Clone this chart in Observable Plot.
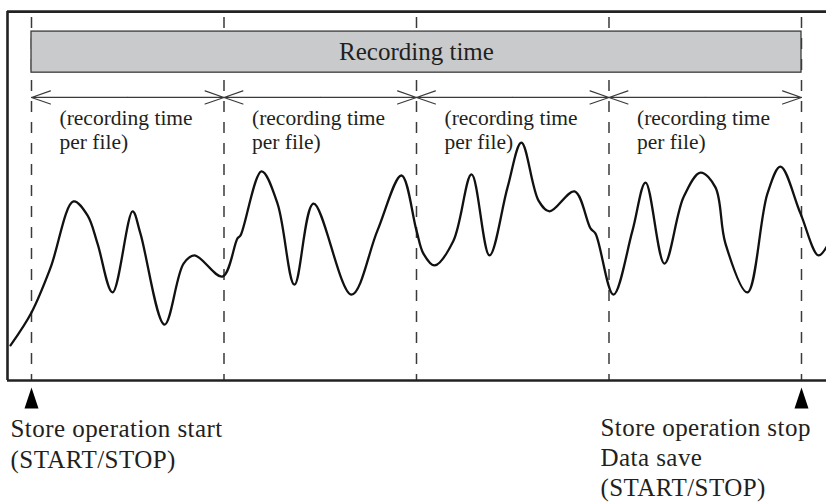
<!DOCTYPE html>
<html>
<head>
<meta charset="utf-8">
<script src="https://cdn.jsdelivr.net/npm/d3@7"></script>
<script src="https://cdn.jsdelivr.net/npm/@observablehq/plot@0.6"></script>
<style>
  html, body { margin: 0; padding: 0; background: #fff; }
  #chart { width: 826px; height: 504px; }
  .bottom-label text { letter-spacing: 0.45px; }
</style>
</head>
<body>
<div id="chart"></div>
<script>
// ---- data ----
// file boundaries on the time axis (one file = 10 time units)
const fileBoundaries = [0, 10, 20, 30, 40];
const barLabel = "Recording time";
const fileLabel = "(recording time\nper file)";
const markerTimes = [0, 40];
const markerLabels = ["Store operation start\n(START/STOP)", "Store operation stop\nData save\n(START/STOP)"];
// measured signal (time, level 0-100)
const signalT = [-1.09, 0, 0.99, 2.18, 2.91, 3.43, 4.21, 5.25, 5.66, 6.91, 7.90, 8.47, 9.92,
  10.70, 10.86, 11.95, 12.78, 13.66, 14.65, 16.62, 17.97, 19.22,
  20.0, 20.36, 20.94, 21.92, 22.86, 23.79, 24.73, 25.45, 26.34, 26.91, 28.21,
  29.04, 29.30, 30.23, 31.22, 31.90, 32.88, 33.87, 34.75, 35.53, 36.05, 37.19,
  38.23, 38.91, 39.95, 40.88, 41.35];
const signalV = [9.5, 18.4, 30.5, 48.4, 44.6, 37.0, 23.8, 45.7, 39.7, 15.1, 31.6, 33.8, 28.1,
  38.4, 39.2, 56.5, 47.8, 25.9, 47.8, 23.2, 40.5, 55.4,
  40.5, 34.3, 31.1, 37.8, 55.7, 33.8, 52.2, 64.3, 48.6, 45.7, 51.1,
  41.1, 39.7, 23.2, 40.5, 53.5, 31.6, 49.5, 56.2, 52.2, 37.0, 23.8,
  50.5, 57.8, 45.1, 33.8, 36.5];

// ---- derived tables ----
const signal = signalT.map((t, i) => ({t, v: signalV[i]}));
const files = fileBoundaries.slice(0, -1).map((b, i) => ({start: b, end: fileBoundaries[i + 1], mid: (b + fileBoundaries[i + 1]) / 2}));
const arrows = files.flatMap(f => [{from: f.mid, to: f.start}, {from: f.mid, to: f.end}]);
const markers = markerTimes.map((t, i) => ({t, label: markerLabels[i]}));

const tallTriangle = {
  draw(ctx, size) {
    const w = Math.sqrt(size), h = w * 1.5;
    ctx.moveTo(0, -h / 2);
    ctx.lineTo(w / 2, h / 2);
    ctx.lineTo(-w / 2, h / 2);
    ctx.closePath();
  }
};

const frameLeft = -1.247, frameRight = 41.4, frameTop = 99.7;
const ink = "#231f20";

const chart = Plot.plot({
  width: 826,
  height: 504,
  margin: 0,
  style: {fontFamily: "'Liberation Serif', 'Times New Roman', serif", background: "#fff"},
  x: {domain: [-1.6104, 41.299], axis: null},
  y: {domain: [0, 100], range: [380, 10], axis: null},
  marks: [
    // dashed file boundaries
    Plot.ruleX(fileBoundaries, {y1: 0, y2: frameTop, stroke: "#3a3a3a", strokeWidth: 1.5,
      strokeDasharray: "11,10", strokeDashoffset: 5}),
    // recording time bar
    Plot.rect([{x1: fileBoundaries[0], x2: fileBoundaries[fileBoundaries.length - 1]}],
      {x1: "x1", x2: "x2", y1: 83.2, y2: 94.3, fill: "#c9cacc", stroke: "#3a3a3a", strokeWidth: 1.3}),
    Plot.text([barLabel], {x: (fileBoundaries[0] + fileBoundaries[fileBoundaries.length - 1]) / 2, y: 88.75,
      text: d => d, fontSize: 25, fill: ink, lineAnchor: "middle"}),
    // per-file arrows
    Plot.arrow(arrows, {x1: "from", x2: "to", y1: 76.5, y2: 76.5, stroke: "#3a3a3a", strokeWidth: 1.2,
      headAngle: 38, headLength: 25}),
    Plot.text(files, {x: "start", dx: 28, y: 73.8, text: () => fileLabel, fontSize: 21.5, fill: ink,
      textAnchor: "start", lineAnchor: "top", lineHeight: 1.12}),
    // signal
    Plot.line(signal, {x: "t", y: "v", curve: "catmull-rom", stroke: "#111", strokeWidth: 2.3}),
    // frame
    Plot.ruleY([0, frameTop], {x1: frameLeft, x2: frameRight, stroke: "#222", strokeWidth: 2.6}),
    Plot.ruleX([frameLeft], {y1: 0, y2: frameTop, stroke: "#222", strokeWidth: 2.6}),
    // start/stop markers
    Plot.dot(markers, {x: "t", y: -4.73, symbol: tallTriangle, r: 7.9, fill: "#000", stroke: null}),
    Plot.text([markers[0]], {x: "t", dx: -21, y: -9.26, text: "label", fontSize: 25, fill: ink,
      textAnchor: "start", lineAnchor: "top", lineHeight: 1.24, className: "bottom-label"}),
    Plot.text([markers[1]], {x: "t", dx: -201, y: -9.26, text: "label", fontSize: 25, fill: ink,
      textAnchor: "start", lineAnchor: "top", lineHeight: 1.2, className: "bottom-label"})
  ]
});
document.getElementById("chart").appendChild(chart);
</script>
</body>
</html>
